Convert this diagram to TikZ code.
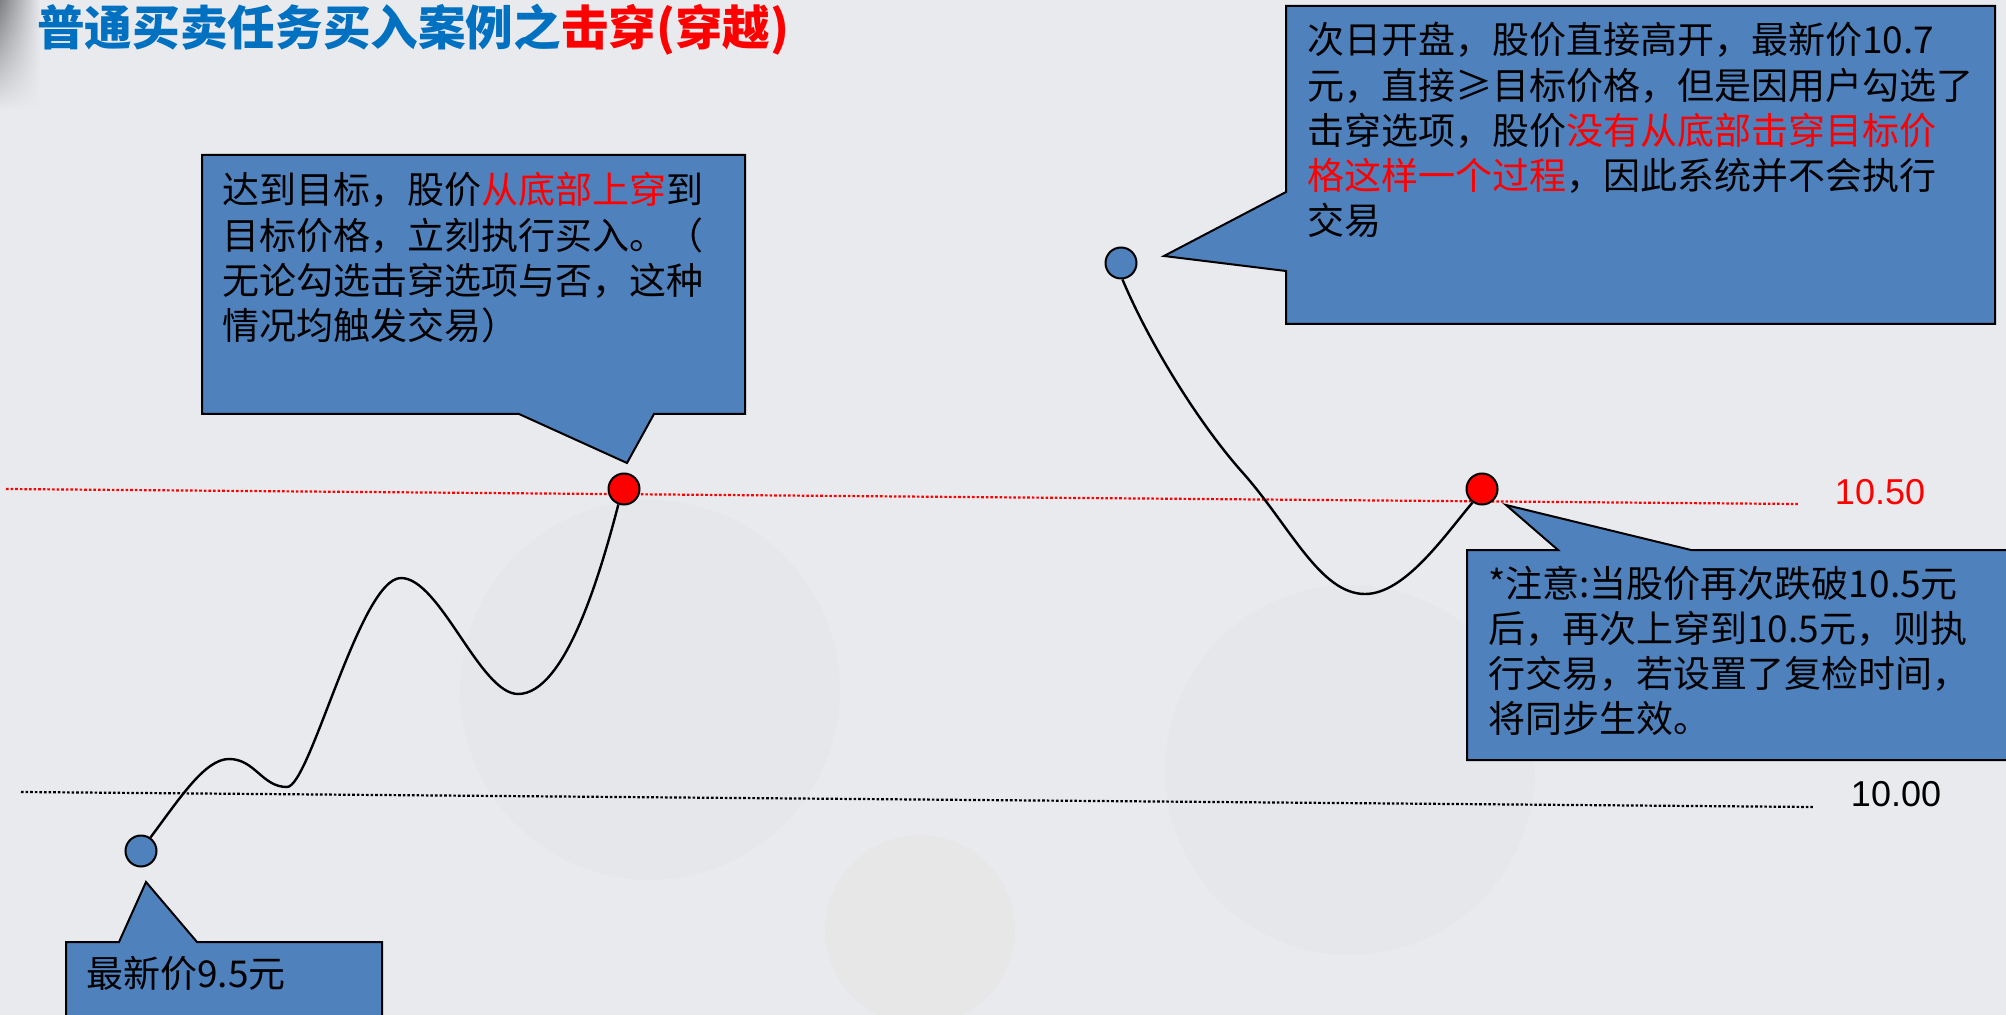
\documentclass[tikz,border=0pt]{standalone}
\usepackage{fontspec}
\setmainfont{Liberation Sans}
\newfontfamily\cjk{Noto Sans CJK SC}
\usetikzlibrary{fadings}
\definecolor{bgc}{RGB}{232,234,238}
\definecolor{boxblue}{RGB}{79,129,189}
\definecolor{titleblue}{RGB}{0,112,192}
\definecolor{hred}{RGB}{255,0,0}
\newcommand\bxfont{\cjk\fontsize{18.5pt}{22.6pt}\selectfont}
\tikzfading[name=fadedown, top color=transparent!0, bottom color=transparent!100]
\begin{document}
\begin{tikzpicture}[x=0.5pt,y=-0.5pt,
  callout/.style={draw=black, line width=1pt, fill=boxblue, line join=miter},
  boxtext/.style={anchor=base west, inner sep=0pt, text=black},
  dot/.style={circle, draw=black, line width=1pt, minimum size=15.5pt, inner sep=0pt},
  curve/.style={draw=black, line width=1.2pt},
  redline/.style={draw=hred, line width=1.1pt, dash pattern=on 1.3pt off 1pt},
  blackline/.style={draw=black, line width=1.1pt, dash pattern=on 1.3pt off 1pt},
  lbl/.style={inner sep=0pt, font=\fontsize{18pt}{20pt}\selectfont}
]
% background
\fill[bgc] (0,0) rectangle (2006,1015);
\useasboundingbox (0,0) rectangle (2006,1015);
\shade[left color=black!45!bgc, right color=bgc, path fading=fadedown] (0,0) rectangle (40,110);
% very faint watermark
\fill[black, opacity=0.012] (650,690) circle (190);
\fill[black, opacity=0.012] (1350,770) circle (185);
\fill[orange, opacity=0.025] (920,930) circle (95);

% title
\node[anchor=base west, inner sep=0pt] (title) at (37,46)
  {\cjk\bfseries\fontsize{23.8pt}{28pt}\selectfont\textcolor{titleblue}{普通买卖任务买入案例之}\textcolor{hred}{击穿(穿越)}};

% price lines
\coordinate (r0) at (6,489);
\coordinate (r1) at (1798,504);
\coordinate (k0) at (21,792);
\coordinate (k1) at (1813,807);
\draw[redline] (r0) -- (r1);
\draw[blackline] (k0) -- (k1);
\node[lbl, text=hred] (l1050) at (1880,492) {10.50};
\node[lbl, text=black] (l1000) at (1896,794) {10.00};

% callout boxes
\path[callout] (202,155) -- (745,155) -- (745,414) -- (654,414) -- (627,463) -- (519,414) -- (202,414) -- cycle;
\node[boxtext] (t1) at (222,204) {\parbox[t]{300pt}{\bxfont
  达到目标，股价\textcolor{hred}{从底部上穿}到\\
  目标价格，立刻执行买入。（\\
  无论勾选击穿选项与否，这种\\
  情况均触发交易）}};

\path[callout] (1286,6) -- (1995,6) -- (1995,324) -- (1286,324) -- (1286,271) -- (1164,256) -- (1286,192) -- cycle;
\node[boxtext] (t2) at (1307,54) {\parbox[t]{400pt}{\bxfont
  次日开盘，股价直接高开，最新价10.7\\
  元，直接≥目标价格，但是因用户勾选了\\
  击穿选项，股价\textcolor{hred}{没有从底部击穿目标价}\\
  \textcolor{hred}{格这样一个过程}，因此系统并不会执行\\
  交易}};

\path[callout] (1467,550) -- (1558,550) -- (1506,505) -- (1691,550) -- (2012,550) -- (2012,760) -- (1467,760) -- cycle;
\node[boxtext] (t3) at (1488,597) {\parbox[t]{300pt}{\bxfont
  *注意:当股价再次跌破10.5元\\
  后，再次上穿到10.5元，则执\\
  行交易，若设置了复检时间，\\
  将同步生效。}};

\path[callout] (66,942) -- (119,942) -- (146,882) -- (197,942) -- (382,942) -- (382,1030) -- (66,1030) -- cycle;
\node[boxtext] (t4) at (86,987) {\bxfont 最新价9.5元};

% dots
\node[dot, fill=boxblue] (bd1) at (141,851) {};
\node[dot, fill=hred] (rd1) at (624,489) {};
\node[dot, fill=boxblue] (bd2) at (1121,263) {};
\node[dot, fill=hred] (rd2) at (1482,489) {};

% price curves
\draw[curve] (bd1.55) .. controls (180,798) and (205,759) .. (229,759)
  .. controls (255,759) and (262,787) .. (287,787)
  .. controls (310,787) and (360,578) .. (401,578)
  .. controls (440,578) and (480,694) .. (518,694)
  .. controls (565,694) and (600,575) .. (rd1.-110);
\draw[curve] (bd2.-85) .. controls (1150,345) and (1200,425) .. (1243,473)
  .. controls (1290,526) and (1320,594) .. (1365,594)
  .. controls (1405,594) and (1445,535) .. (rd2.-125);
\end{tikzpicture}
\end{document}
